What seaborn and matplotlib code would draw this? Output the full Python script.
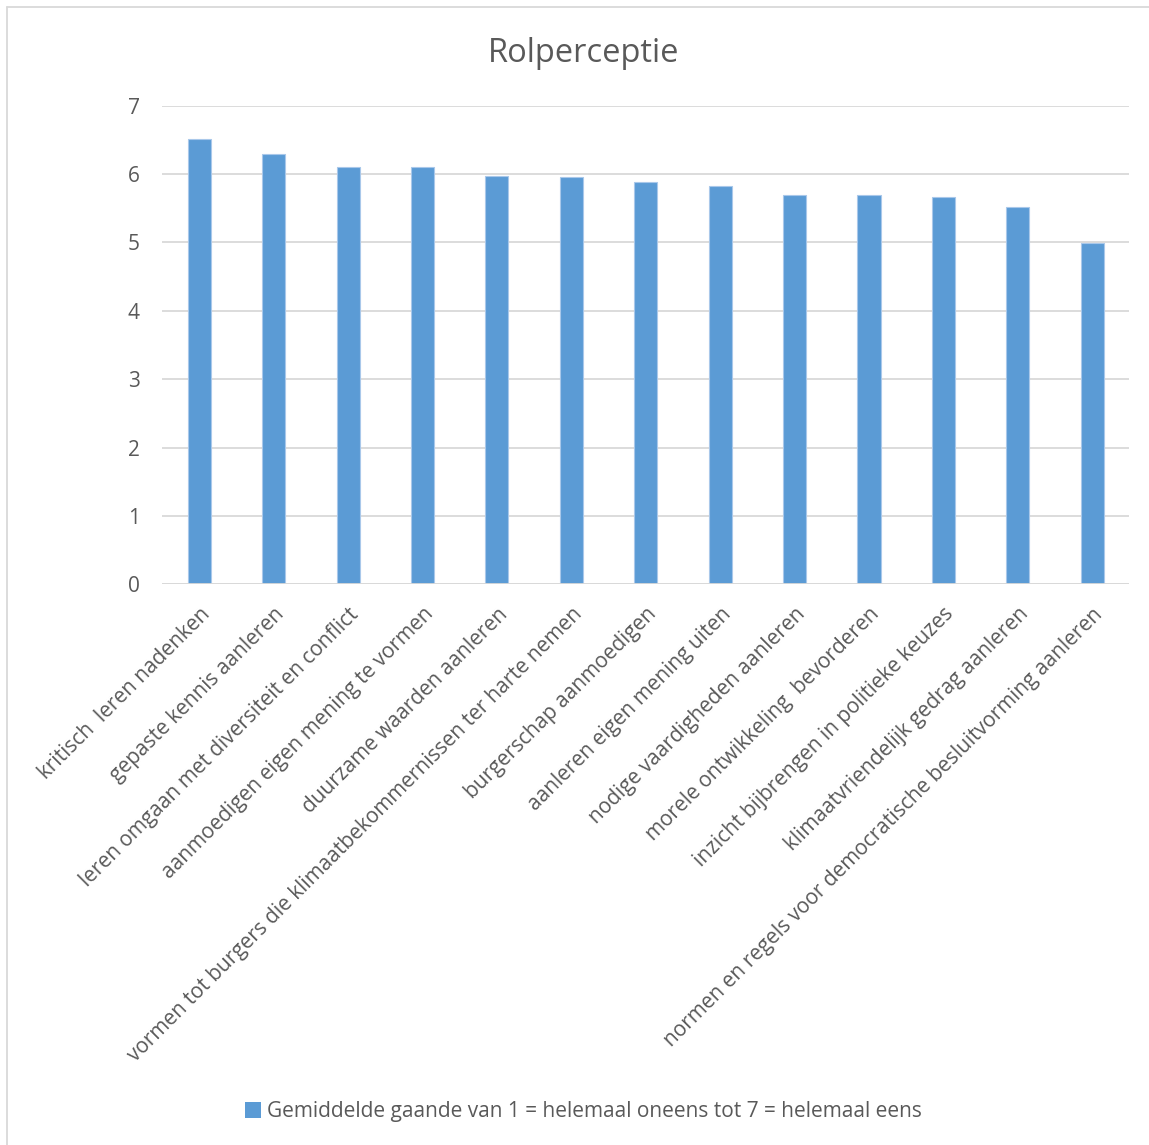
import matplotlib
matplotlib.use("Agg")
import matplotlib.pyplot as plt
from matplotlib.lines import Line2D
from matplotlib.patches import Patch
import seaborn as sns
import pandas as pd

categories = [
    "kritisch  leren nadenken",
    "gepaste kennis aanleren",
    "leren omgaan met diversiteit en conflict",
    "aanmoedigen eigen mening te vormen",
    "duurzame waarden aanleren",
    "vormen tot burgers die klimaatbekommernissen ter harte nemen",
    "burgerschap aanmoedigen",
    "aanleren eigen mening uiten",
    "nodige vaardigheden aanleren",
    "morele ontwikkeling  bevorderen",
    "inzicht bijbrengen in politieke keuzes",
    "klimaatvriendelijk gedrag aanleren",
    "normen en regels voor democratische besluitvorming aanleren",
]
values = [6.52, 6.30, 6.11, 6.10, 5.97, 5.96, 5.89, 5.83, 5.70, 5.70, 5.66, 5.52, 4.99]
series_name = "Gemiddelde gaande van 1 = helemaal oneens tot 7 = helemaal eens"
title = "Rolperceptie"
y_ticks = [0, 1, 2, 3, 4, 5, 6, 7]

sns.set_theme(style="white")
plt.rcParams["font.family"] = ["Open Sans", "DejaVu Sans"]

text_color = "#595959"
grid_color = "#d9d9d9"
bar_color = "#5b9bd5"

df = pd.DataFrame({"categorie": categories, "waarde": values})

fig = plt.figure(figsize=(11.49, 11.45), dpi=100)
ax = fig.add_axes([0.141, 0.4897, 0.842, 0.418])

sns.barplot(data=df, x="categorie", y="waarde", color=bar_color, width=0.31,
            saturation=1, edgecolor="#a9c8ea", linewidth=0.8, ax=ax, zorder=3)

ax.set_ylim(0, 7)
ax.set_xlim(-0.5, len(categories) - 0.5)
ax.set_yticks(y_ticks)
ax.set_yticklabels([str(t) for t in y_ticks], fontsize=15, color=text_color)
ax.yaxis.grid(True, color=grid_color, linewidth=1.3, zorder=0)
ax.xaxis.grid(False)
for s in ax.spines.values():
    s.set_visible(False)
ax.axhline(0, color=grid_color, linewidth=1.3, zorder=4)
ax.set_xlabel("")
ax.set_ylabel("")
ax.tick_params(axis="both", length=0)
ax.tick_params(axis="y", pad=16)
ax.set_xticks(range(len(categories)))
ax.set_xticklabels(categories, rotation=45, ha="right", rotation_mode="anchor",
                   fontsize=15, color=text_color)
ax.tick_params(axis="x", pad=14)
for lbl in ax.get_xticklabels():
    x, y = lbl.get_position()
    lbl.set_x(x + 0.2)

fig.text(0.508, 0.953, title, ha="center", va="center", fontsize=23.5, color=text_color)

handles = [Patch(facecolor=bar_color, edgecolor="none", label=series_name)]
fig.legend(handles=handles, loc="center", bbox_to_anchor=(0.508, 0.029), frameon=False,
           fontsize=15, labelcolor=text_color, handlelength=0.75, handleheight=0.75,
           handletextpad=0.3)

# light chart-area outline along the top and left edges
border = "#d9d9d9"
fig.add_artist(Line2D([6.5 / 1149, 1.0], [1 - 6.5 / 1145, 1 - 6.5 / 1145],
                      color=border, linewidth=1.3, transform=fig.transFigure))
fig.add_artist(Line2D([6.5 / 1149, 6.5 / 1149], [0.0, 1 - 6.5 / 1145],
                      color=border, linewidth=1.3, transform=fig.transFigure))

fig.savefig("out.png", dpi=100, facecolor="white")
